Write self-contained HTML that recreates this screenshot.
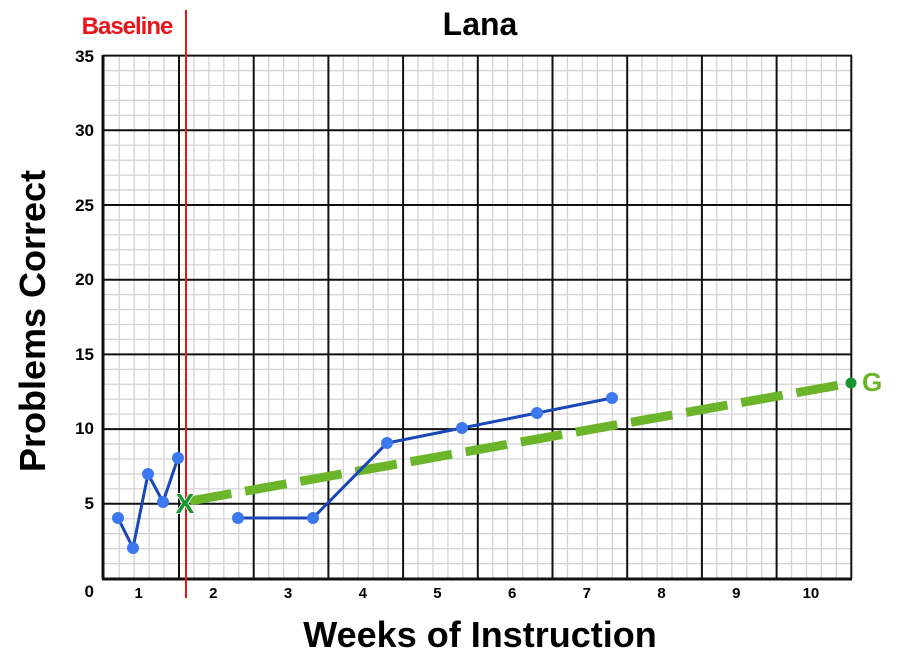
<!DOCTYPE html><html><head><meta charset="utf-8"><style>body{margin:0;background:#fff}svg{display:block}text{font-family:"Liberation Sans",Arial,sans-serif;font-weight:bold}</style></head><body>
<svg width="900" height="661" viewBox="0 0 900 661" xmlns="http://www.w3.org/2000/svg">
<g stroke="#d4d4d4" stroke-width="1.3" id="minor"></g>
<g stroke="#111" stroke-width="2" id="major"></g>
<line x1="103" y1="55" x2="103" y2="579" stroke="#111" stroke-width="3"/>
<line x1="102" y1="579" x2="852" y2="579" stroke="#111" stroke-width="3"/>
<line x1="186" y1="10" x2="186" y2="598" stroke="#e8161b" stroke-width="2"/>
<line x1="190" y1="501" x2="851" y2="383" stroke="#6ab52a" stroke-width="9" stroke-dasharray="42,14"/>
<circle cx="851" cy="383" r="5.5" fill="#16962f"/>
<text x="862" y="391" font-size="26" fill="#6ab52a">G</text>
<polyline points="118,518 133,548 148,474 163,502 178,458" fill="none" stroke="#1a47b8" stroke-width="3"/>
<polyline points="238,518 313,518 387,443 462,428 537,413 612,398" fill="none" stroke="#1a47b8" stroke-width="3"/>
<g fill="#3c78ef"><circle cx="118" cy="518" r="6"/><circle cx="133" cy="548" r="6"/><circle cx="148" cy="474" r="6"/><circle cx="163" cy="502" r="6"/><circle cx="178" cy="458" r="6"/><circle cx="238" cy="518" r="6"/><circle cx="313" cy="518" r="6"/><circle cx="387" cy="443" r="6"/><circle cx="462" cy="428" r="6"/><circle cx="537" cy="413" r="6"/><circle cx="612" cy="398" r="6"/></g>
<text x="185" y="513" font-size="28" fill="#16962f" text-anchor="middle" stroke="#fff" stroke-width="1.5" paint-order="stroke">X</text>
<text x="480" y="35" font-size="32" text-anchor="middle" fill="#000">Lana</text>
<text x="127" y="34" font-size="24" text-anchor="middle" fill="#e8161b" style="letter-spacing:-1px">Baseline</text>
<g font-size="17" text-anchor="end" fill="#000">
<text x="94" y="62">35</text><text x="94" y="136">30</text><text x="94" y="211">25</text><text x="94" y="285">20</text><text x="94" y="360">15</text><text x="94" y="434">10</text><text x="94" y="509">5</text><text x="94" y="597">0</text></g>
<g font-size="15" text-anchor="middle" fill="#000" id="xl"></g>
<text x="480" y="647" font-size="36" text-anchor="middle" fill="#000">Weeks of Instruction</text>
<text transform="translate(45,321) rotate(-90)" font-size="36" text-anchor="middle" fill="#000">Problems Correct</text>
<script>
var ns="http://www.w3.org/2000/svg",mi=document.getElementById('minor'),ma=document.getElementById('major'),xl=document.getElementById('xl');
function L(g,a,b,c,d){var l=document.createElementNS(ns,'line');l.setAttribute('x1',a);l.setAttribute('y1',b);l.setAttribute('x2',c);l.setAttribute('y2',d);g.appendChild(l);}
var x0=104.3,w=74.7,y0=578.5,u=14.94;
for(var i=1;i<50;i++){if(i%5)L(mi,x0+i*w/5,55,x0+i*w/5,579);}
for(var j=1;j<35;j++){if(j%5)L(mi,103,y0-j*u,852,y0-j*u);}
for(var i=1;i<=10;i++)L(ma,x0+i*w,55,x0+i*w,579);
for(var j=1;j<=7;j++)L(ma,103,y0-j*5*u,852,y0-j*5*u);
for(var i=0;i<10;i++){var t=document.createElementNS(ns,'text');t.setAttribute('x',x0+i*w+w/2-3);t.setAttribute('y',598);t.textContent=i+1;xl.appendChild(t);}
</script>
</svg></body></html>
